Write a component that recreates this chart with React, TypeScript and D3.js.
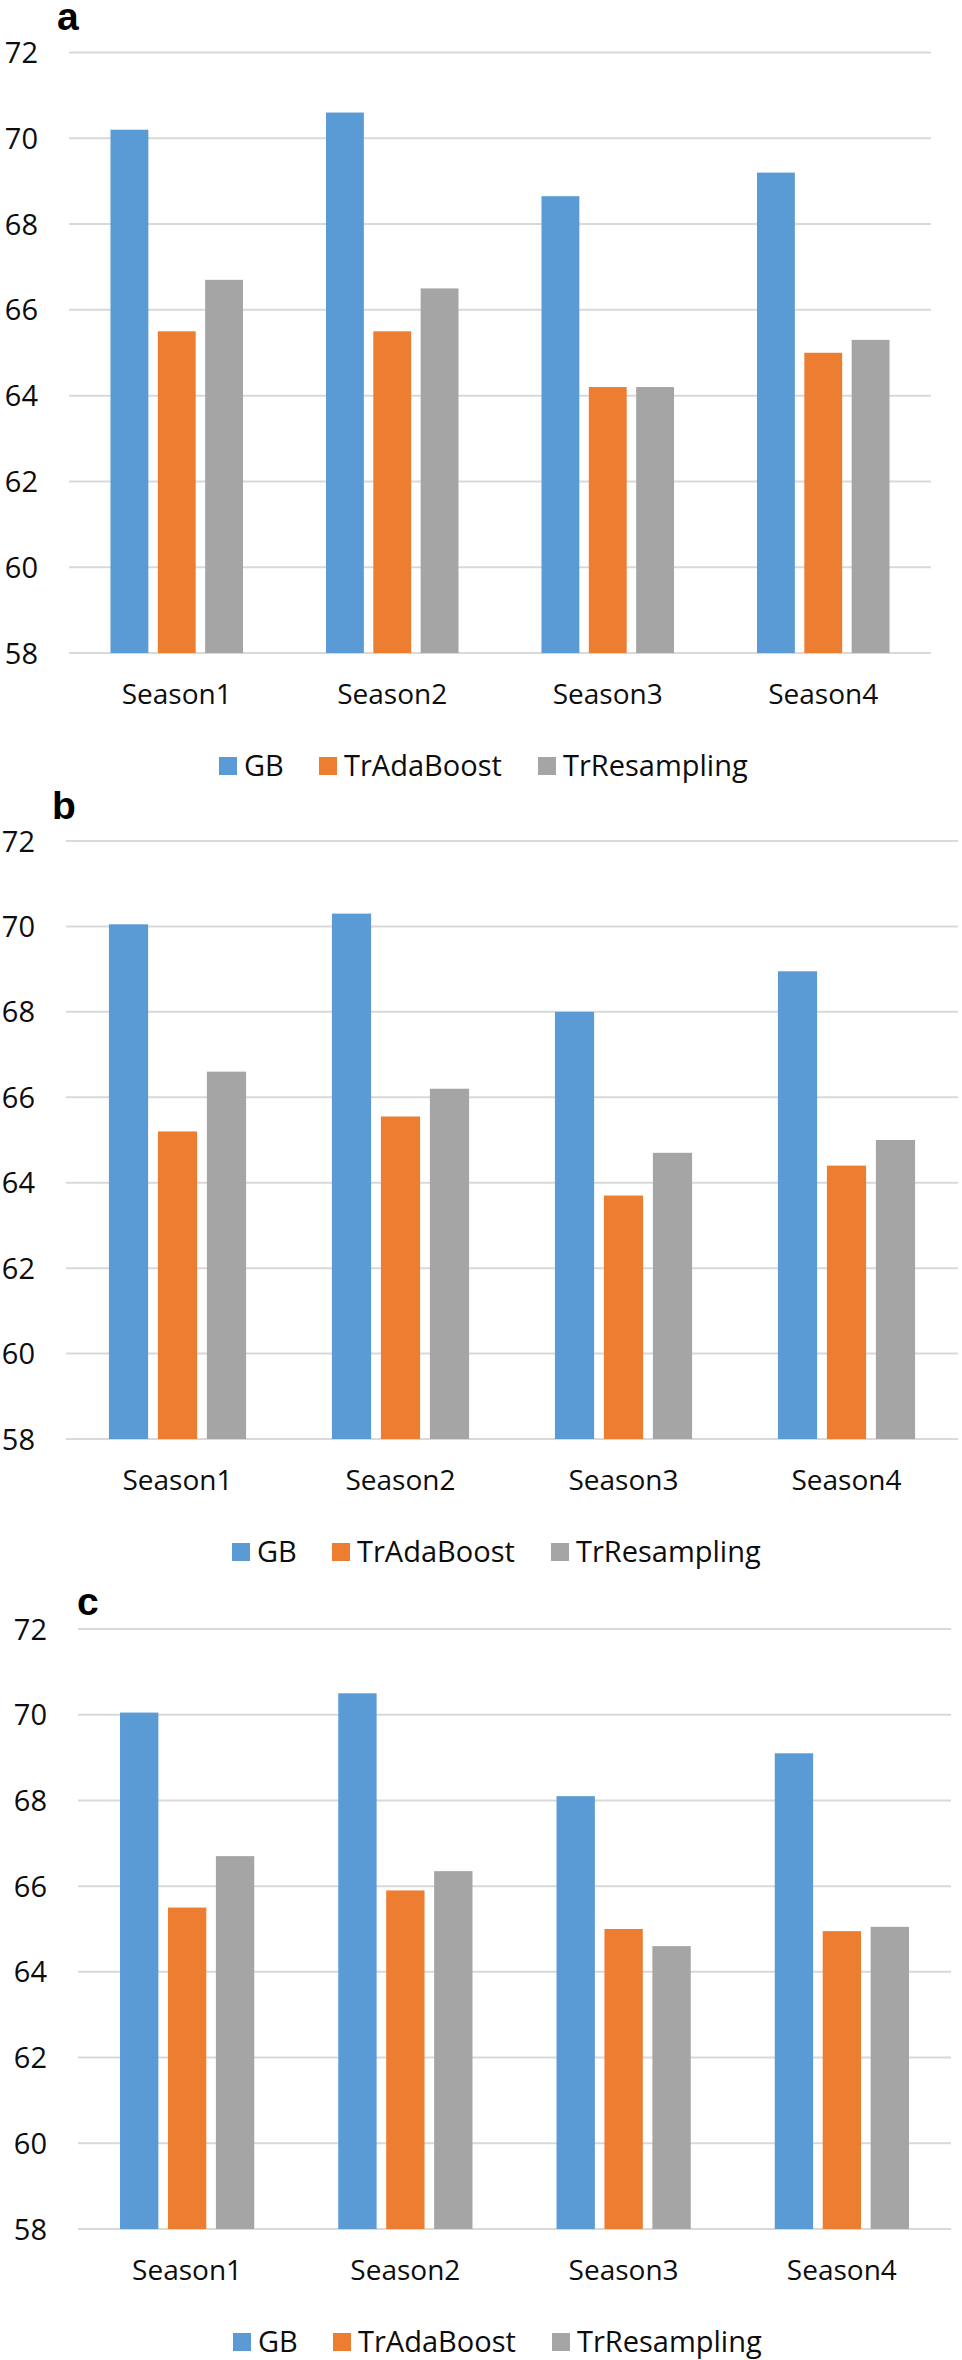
import React from "react";
import * as d3 from "d3";

const categories = ["Season1", "Season2", "Season3", "Season4"];
const seriesNames = ["GB", "TrAdaBoost", "TrResampling"];
const seriesColors = ["#5B9BD5", "#ED7D31", "#A5A5A5"];
const yTicks = [58, 60, 62, 64, 66, 68, 70, 72];

// Panel a
const aGB = [70.2, 70.6, 68.65, 69.2];
const aTrAdaBoost = [65.5, 65.5, 64.2, 65.0];
const aTrResampling = [66.7, 66.5, 64.2, 65.3];

// Panel b
const bGB = [70.05, 70.3, 68.0, 68.95];
const bTrAdaBoost = [65.2, 65.55, 63.7, 64.4];
const bTrResampling = [66.6, 66.2, 64.7, 65.0];

// Panel c
const cGB = [70.05, 70.5, 68.1, 69.1];
const cTrAdaBoost = [65.5, 65.9, 65.0, 64.95];
const cTrResampling = [66.7, 66.35, 64.6, 65.05];

const panels = [
  {
    letter: "a",
    letterX: 57,
    letterY: 30,
    left: 69,
    right: 931,
    yTop: 52.5,
    yBottom: 653,
    legendX: 219,
    data: [aGB, aTrAdaBoost, aTrResampling],
  },
  {
    letter: "b",
    letterX: 52,
    letterY: 819,
    left: 66,
    right: 958,
    yTop: 841,
    yBottom: 1439,
    legendX: 232,
    data: [bGB, bTrAdaBoost, bTrResampling],
  },
  {
    letter: "c",
    letterX: 77,
    letterY: 1615,
    left: 78,
    right: 951,
    yTop: 1629,
    yBottom: 2229,
    legendX: 233,
    data: [cGB, cTrAdaBoost, cTrResampling],
  },
];

const legendOffsets = [0, 100, 319];
const FONT = "'Open Sans', 'Noto Sans', sans-serif";
const TEXT_COLOR = "#0d0d0d";

function Panel({ p }: { p: (typeof panels)[number] }) {
  const x = d3.scaleBand<string>().domain(categories).range([p.left, p.right]).padding(0);
  const groupW = x.step() * 0.615;
  const xs = d3
    .scaleBand<string>()
    .domain(seriesNames)
    .range([0, groupW])
    .paddingInner(0.2)
    .paddingOuter(0);
  const y = d3.scaleLinear().domain([58, 72]).range([p.yBottom, p.yTop]);

  return (
    <g>
      <text
        x={p.letterX}
        y={p.letterY}
        fontFamily="'Liberation Sans', Arial, sans-serif"
        fontWeight="bold"
        fontSize={39}
        fill="#000"
      >
        {p.letter}
      </text>
      {yTicks.map((t) => (
        <g key={t}>
          <line
            x1={p.left}
            x2={p.right}
            y1={y(t)}
            y2={y(t)}
            stroke="#d9d9d9"
            strokeWidth={2}
          />
          <text
            x={p.left - 31}
            y={y(t) + 10.5}
            textAnchor="end"
            fontFamily={FONT}
            fontSize={29}
            fill={TEXT_COLOR}
          >
            {t}
          </text>
        </g>
      ))}
      {categories.map((c, ci) => {
        const gx = (x(c) as number) + x.bandwidth() / 2 - groupW / 2;
        return (
          <g key={c}>
            {seriesNames.map((s, si) => {
              const v = p.data[si][ci];
              return (
                <rect
                  key={s}
                  x={gx + (xs(s) as number)}
                  y={y(v)}
                  width={xs.bandwidth()}
                  height={y(58) - y(v)}
                  fill={seriesColors[si]}
                />
              );
            })}
            <text
              x={(x(c) as number) + x.bandwidth() / 2}
              y={p.yBottom + 51}
              textAnchor="middle"
              fontFamily={FONT}
              fontSize={28}
              fill={TEXT_COLOR}
            >
              {c}
            </text>
          </g>
        );
      })}
      {seriesNames.map((s, si) => {
        const lx = p.legendX + legendOffsets[si];
        return (
          <g key={s}>
            <rect x={lx} y={p.yBottom + 104} width={18} height={18} fill={seriesColors[si]} />
            <text
              x={lx + 25}
              y={p.yBottom + 123}
              fontFamily={FONT}
              fontSize={29}
              fill={TEXT_COLOR}
            >
              {s}
            </text>
          </g>
        );
      })}
    </g>
  );
}

export default function App() {
  return (
    <svg
      width={962}
      height={2360}
      viewBox="0 0 962 2360"
      style={{ position: "absolute", left: 0, top: 0, background: "#fff" }}
    >
      <rect x={0} y={0} width={962} height={2360} fill="#fff" />
      {panels.map((p) => (
        <Panel key={p.letter} p={p} />
      ))}
    </svg>
  );
}
